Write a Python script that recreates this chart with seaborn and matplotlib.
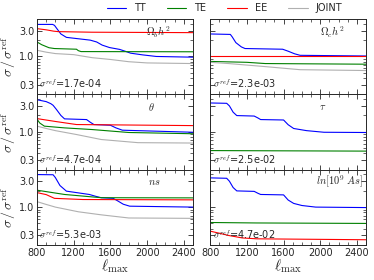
import numpy as np
import pandas as pd
import matplotlib
matplotlib.use('Agg')
import matplotlib.pyplot as plt
from matplotlib.ticker import MultipleLocator, FixedLocator, NullFormatter
from matplotlib.lines import Line2D
import seaborn as sns

# ---- data ----
# Omega_b h^2
ob_tt_l = [800, 970, 990, 1020, 1060, 1120, 1380, 1450, 1510, 1590, 1700, 1760, 1820, 1950, 2100, 2500]
ob_tt_v = [3.9, 3.9, 3.75, 3.2, 2.6, 2.25, 2.0, 1.85, 1.62, 1.46, 1.35, 1.25, 1.15, 1.07, 1.0, 0.97]
ob_te_l = [800, 850, 930, 990, 1230, 1250, 1280, 2500]
ob_te_v = [1.85, 1.65, 1.45, 1.40, 1.36, 1.28, 1.23, 1.22]
ob_ee_l = [800, 900, 980, 1030, 1400, 2500]
ob_ee_v = [3.26, 3.1, 2.93, 2.87, 2.8, 2.75]
ob_jo_l = [800, 900, 1000, 1200, 1400, 1600, 1800, 2000, 2500]
ob_jo_v = [1.30, 1.2, 1.13, 1.08, 0.95, 0.88, 0.80, 0.76, 0.74]

# Omega_c h^2
oc_tt_l = [800, 1020, 1040, 1080, 1140, 1180, 1590, 1650, 1720, 1780, 2500]
oc_tt_v = [2.6, 2.55, 2.3, 1.8, 1.5, 1.40, 1.36, 1.25, 1.12, 1.05, 1.02]
oc_te_l = [800, 1200, 1400, 2500]
oc_te_v = [0.81, 0.78, 0.74, 0.72]
oc_ee_l = [800, 2500]
oc_ee_v = [1.0, 1.0]
oc_jo_l = [800, 1000, 1400, 1780, 2500]
oc_jo_v = [0.78, 0.74, 0.65, 0.57, 0.55]

# theta
th_tt_l = [800, 900, 950, 975, 1010, 1060, 1100, 1340, 1380, 1420, 1600, 1660, 1730, 2500]
th_tt_v = [3.9, 3.6, 3.3, 3.08, 2.6, 2.0, 1.73, 1.68, 1.5, 1.36, 1.32, 1.18, 1.07, 0.98]
th_te_l = [800, 830, 880, 1100, 1400, 1800, 2500]
th_te_v = [1.70, 1.45, 1.27, 1.18, 1.1, 0.97, 0.92]
th_ee_l = [800, 1000, 1230, 2500]
th_ee_v = [1.75, 1.55, 1.36, 1.30]
th_jo_l = [800, 900, 1000, 1230, 1500, 1900, 2500]
th_jo_v = [1.27, 1.15, 1.05, 0.89, 0.72, 0.63, 0.62]

# tau
ta_tt_l = [800, 980, 1010, 1050, 1090, 1280, 1320, 1350, 1600, 1650, 1710, 1850, 2040, 2500]
ta_tt_v = [3.4, 3.35, 3.0, 2.3, 1.99, 1.95, 1.8, 1.68, 1.65, 1.35, 1.15, 1.05, 0.98, 0.97]
ta_te_l = [800, 2500]
ta_te_v = [0.45, 0.44]

# ns
ns_tt_l = [800, 975, 1000, 1050, 1120, 1370, 1440, 1500, 1630, 1680, 1740, 1810, 2500]
ns_tt_v = [3.98, 3.95, 3.5, 2.5, 1.97, 1.71, 1.58, 1.49, 1.45, 1.3, 1.13, 1.04, 1.0]
ns_te_l = [800, 1100, 1500, 2500]
ns_te_v = [2.05, 1.71, 1.49, 1.48]
ns_ee_l = [800, 900, 990, 1300, 2500]
ns_ee_v = [1.85, 1.7, 1.45, 1.38, 1.36]
ns_jo_l = [800, 900, 1000, 1250, 1500, 1800, 2500]
ns_jo_v = [1.26, 1.12, 1.0, 0.82, 0.72, 0.63, 0.62]

# ln[10^9 As]
as_tt_l = [800, 980, 1010, 1050, 1090, 1280, 1320, 1350, 1600, 1650, 1710, 1800, 1950, 2500]
as_tt_v = [3.46, 3.4, 3.0, 2.3, 1.99, 1.95, 1.8, 1.71, 1.68, 1.35, 1.17, 1.07, 1.0, 0.98]
as_te_l = [800, 1300, 2500]
as_te_v = [0.52, 0.51, 0.50]
as_ee_l = [800, 900, 1000, 1150, 1308, 2500]
as_ee_v = [0.36, 0.33, 0.30, 0.27, 0.26, 0.25]

param_labels = [r'$\Omega_b h^2$', r'$\Omega_c h^2$', r'$\theta$', r'$\tau$', r'$ns$', r'$ln[10^9\ As]$']
sigma_ref = ['1.7e-04', '2.3e-03', '4.7e-04', '2.5e-02', '5.3e-03', '4.7e-02']
series_names = ['TT', 'TE', 'EE', 'JOINT']
colors = {'TT': 'blue', 'TE': 'green', 'EE': 'red', 'JOINT': '#b0b0b0'}

panels = [
    {'TT': (ob_tt_l, ob_tt_v), 'TE': (ob_te_l, ob_te_v), 'EE': (ob_ee_l, ob_ee_v), 'JOINT': (ob_jo_l, ob_jo_v)},
    {'TT': (oc_tt_l, oc_tt_v), 'TE': (oc_te_l, oc_te_v), 'EE': (oc_ee_l, oc_ee_v), 'JOINT': (oc_jo_l, oc_jo_v)},
    {'TT': (th_tt_l, th_tt_v), 'TE': (th_te_l, th_te_v), 'EE': (th_ee_l, th_ee_v), 'JOINT': (th_jo_l, th_jo_v)},
    {'TT': (ta_tt_l, ta_tt_v), 'TE': (ta_te_l, ta_te_v)},
    {'TT': (ns_tt_l, ns_tt_v), 'TE': (ns_te_l, ns_te_v), 'EE': (ns_ee_l, ns_ee_v), 'JOINT': (ns_jo_l, ns_jo_v)},
    {'TT': (as_tt_l, as_tt_v), 'TE': (as_te_l, as_te_v), 'EE': (as_ee_l, as_ee_v)},
]
label_x = [0.78, 0.78, 0.73, 0.72, 0.75, 0.83]

sns.set_style('ticks')
plt.rcParams['font.family'] = ['DejaVu Sans']
plt.rcParams['mathtext.fontset'] = 'cm'

fig, axes = plt.subplots(3, 2, figsize=(3.74, 2.8), dpi=100, sharex=True)
fig.subplots_adjust(left=0.099, right=0.979, top=0.932, bottom=0.125, hspace=0, wspace=0.11)

for i, ax in enumerate(axes.flat):
    for name in series_names:
        if name in panels[i]:
            l, v = panels[i][name]
            df = pd.DataFrame({'ell': l, 'val': v})
            sns.lineplot(data=df, x='ell', y='val', color=colors[name], lw=0.8, ax=ax, legend=False)
    ax.set_yscale('log')
    ax.set_ylim(0.2, 4.9)
    ax.set_xlim(800, 2500)
    ax.yaxis.set_major_locator(FixedLocator([0.3, 1.0, 3.0]))
    ax.yaxis.set_minor_locator(FixedLocator([0.2, 0.4, 0.5, 0.6, 0.7, 0.8, 0.9, 2.0, 4.0]))
    ax.yaxis.set_minor_formatter(NullFormatter())
    ax.xaxis.set_major_locator(MultipleLocator(400))
    ax.xaxis.set_minor_locator(MultipleLocator(100))
    ax.tick_params(which='both', direction='in', top=True, right=True, labelsize=7, pad=2)
    ax.tick_params(which='major', length=3.5, width=0.6)
    ax.tick_params(which='minor', length=2, width=0.5)
    for s in ax.spines.values():
        s.set_linewidth(0.7)
    if i % 2 == 0:
        ax.set_yticklabels(['0.3', '1.0', '3.0'])
        ax.set_ylabel(r'$\sigma\,/\,\sigma^{\rm ref}$', fontsize=10, labelpad=1)
    else:
        ax.set_yticklabels([])
        ax.set_ylabel('')
    if i >= 4:
        ax.set_xlabel(r'$\ell_{\rm max}$', fontsize=11, labelpad=0)
    else:
        ax.set_xlabel('')
    ax.text(label_x[i], 0.83, param_labels[i], transform=ax.transAxes, ha='center', va='center', fontsize=7.5)
    ax.text(0.015, 0.13, r'$\sigma^{ref}$=' + sigma_ref[i], transform=ax.transAxes, ha='left', va='center', fontsize=7)

handles = [Line2D([0], [0], color=colors[n], lw=0.8) for n in series_names]
fig.legend(handles, series_names, loc='upper center', bbox_to_anchor=(0.6, 1.02), ncol=4, frameon=False,
           fontsize=7, handlelength=2, columnspacing=2.2, handletextpad=0.8)

fig.savefig('out.png', dpi=100)
